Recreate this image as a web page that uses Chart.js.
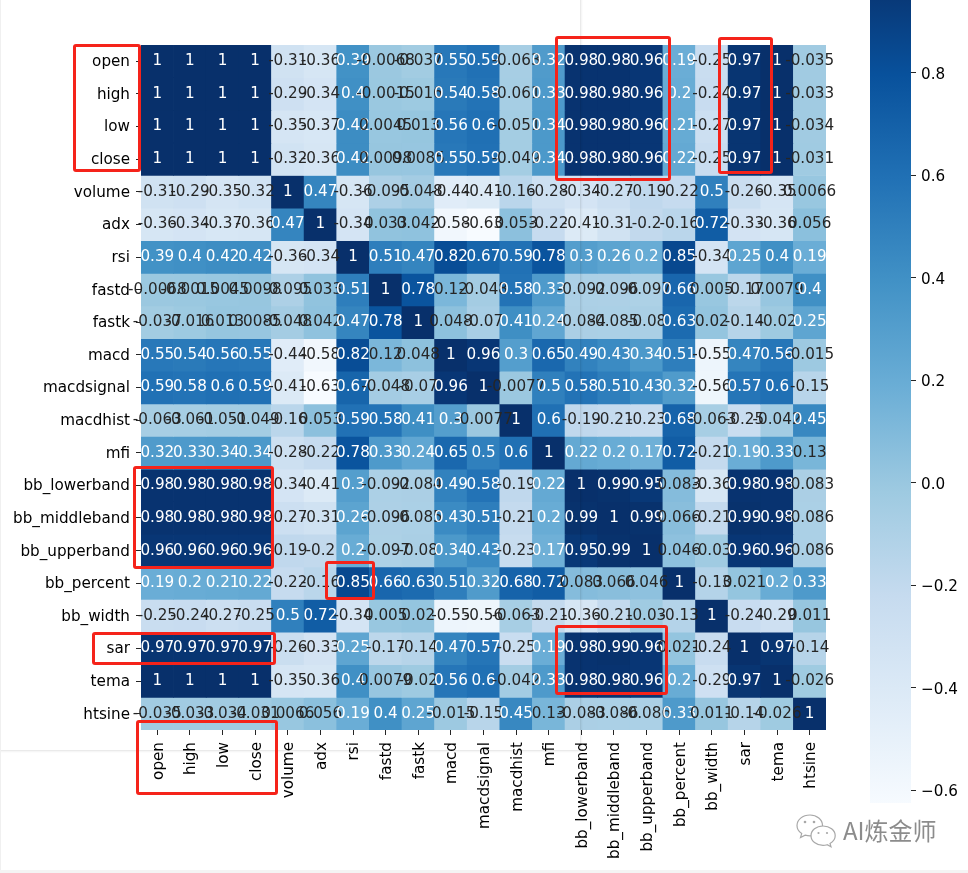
<!DOCTYPE html>
<html>
<head>
<meta charset="utf-8">
<title>correlation heatmap</title>
<script src="https://cdn.jsdelivr.net/npm/chart.js@4"></script>
<style>
  html, body { margin: 0; padding: 0; background: #fff; }
  body { position: relative; width: 968px; height: 873px; overflow: hidden; }
  canvas { position: absolute; }
  #heatmap { left: 0; top: 0; }
  #colorbar { left: 860px; top: 0; }
  .redbox { position: absolute; box-sizing: border-box; border: 3px solid #f5231a; border-radius: 3px; }
  #pageEdge { position: absolute; left: -5px; top: -5px; width: 585px; height: 755px; box-shadow: 0 0 3px rgba(0,0,0,.22); }
  #leftEdge { position: absolute; left: 0; top: 0; width: 1px; height: 873px; background: #f0f0f0; }
  #bottomEdge { position: absolute; left: 0; top: 870px; width: 968px; height: 3px; background: #f4f4f4; }
  #watermark { position: absolute; left: 843px; top: 812px; font: 24px "Noto Sans CJK SC", sans-serif; color: #8c8c8c; white-space: nowrap; }
  #wechat { position: absolute; left: 796px; top: 814px; }
</style>
</head>
<body>
<canvas id="heatmap" width="968" height="873"></canvas>
<canvas id="colorbar" width="108" height="815"></canvas>
<div id="pageEdge"></div>
<div id="leftEdge"></div>
<div id="bottomEdge"></div>

<div class="redbox" style="left:73px;top:44px;width:68px;height:128px"></div>
<div class="redbox" style="left:555px;top:36px;width:116px;height:145px"></div>
<div class="redbox" style="left:718px;top:37px;width:55px;height:137px"></div>
<div class="redbox" style="left:133px;top:466px;width:141px;height:103px"></div>
<div class="redbox" style="left:325px;top:561px;width:50px;height:39px"></div>
<div class="redbox" style="left:92px;top:632px;width:184px;height:33px"></div>
<div class="redbox" style="left:555px;top:625px;width:113px;height:70px"></div>
<div class="redbox" style="left:136px;top:720px;width:142px;height:75px"></div>

<svg id="wechat" width="42" height="40" viewBox="0 0 42 40" fill="#fff" stroke="#a8a8a8" stroke-width="1.2">
  <path d="M14 1C6.500 1 1 5.800 1 11.500c0 3.400 1.800 6.100 4.700 8.100L4.500 23.500l4.600-2.300c1.500.4 3 .7 4.900.7 6.800 0 12.500-4.600 12.500-10.400S20.800 1 14 1z"/>
  <path d="M27 12c-6.700 0-12 4.300-12 9.700s5.300 9.700 12 9.700c1.500 0 2.900-.3 4.200-.7l3.800 2.100-1-3.400c3.200-1.800 5.200-4.600 5.200-7.700C39.200 16.300 33.700 12 27 12z"/>
  <circle cx="9" cy="8" r="1.300" fill="#a8a8a8" stroke="none"/>
  <circle cx="18" cy="8" r="1.300" fill="#a8a8a8" stroke="none"/>
  <circle cx="22.500" cy="19" r="1.100" fill="#a8a8a8" stroke="none"/>
  <circle cx="31" cy="19" r="1.100" fill="#a8a8a8" stroke="none"/>
</svg>
<div id="watermark">AI炼金师</div>

<script>
const features = ['open', 'high', 'low', 'close', 'volume', 'adx', 'rsi', 'fastd', 'fastk', 'macd', 'macdsignal',
  'macdhist', 'mfi', 'bb_lowerband', 'bb_middleband', 'bb_upperband', 'bb_percent', 'bb_width', 'sar', 'tema', 'htsine'];

const open = [1, 1, 1, 1, -0.31, -0.36, 0.39, -0.0068, -0.037, 0.55, 0.59, -0.063, 0.32, 0.98, 0.98, 0.96, 0.19, -0.25, 0.97, 1, -0.035];
const high = [1, 1, 1, 1, -0.29, -0.34, 0.4, -0.0015, -0.016, 0.54, 0.58, -0.061, 0.33, 0.98, 0.98, 0.96, 0.2, -0.24, 0.97, 1, -0.033];
const low = [1, 1, 1, 1, -0.35, -0.37, 0.42, 0.0045, 0.013, 0.56, 0.6, -0.051, 0.34, 0.98, 0.98, 0.96, 0.21, -0.27, 0.97, 1, -0.034];
const close_ = [1, 1, 1, 1, -0.32, -0.36, 0.42, 0.0098, 0.0085, 0.55, 0.59, -0.049, 0.34, 0.98, 0.98, 0.96, 0.22, -0.25, 0.97, 1, -0.031];
const volume = [-0.31, -0.29, -0.35, -0.32, 1, 0.47, -0.36, -0.095, -0.048, -0.44, -0.41, -0.16, -0.28, -0.34, -0.27, -0.19, -0.22, 0.5, -0.26, -0.35, 0.0066];
const adx = [-0.36, -0.34, -0.37, -0.36, 0.47, 1, -0.34, 0.033, 0.042, -0.58, -0.63, 0.053, -0.22, -0.41, -0.31, -0.2, -0.16, 0.72, -0.33, -0.36, 0.056];
const rsi = [0.39, 0.4, 0.42, 0.42, -0.36, -0.34, 1, 0.51, 0.47, 0.82, 0.67, 0.59, 0.78, 0.3, 0.26, 0.2, 0.85, -0.34, 0.25, 0.4, 0.19];
const fastd = [-0.0068, -0.0015, 0.0045, 0.0098, -0.095, 0.033, 0.51, 1, 0.78, 0.12, -0.048, 0.58, 0.33, -0.092, -0.096, -0.097, 0.66, 0.005, -0.17, 0.0079, 0.4];
const fastk = [-0.037, -0.016, 0.013, 0.0085, -0.048, 0.042, 0.47, 0.78, 1, 0.048, -0.07, 0.41, 0.24, -0.084, -0.085, -0.08, 0.63, 0.02, -0.14, -0.02, 0.25];
const macd = [0.55, 0.54, 0.56, 0.55, -0.44, -0.58, 0.82, 0.12, 0.048, 1, 0.96, 0.3, 0.65, 0.49, 0.43, 0.34, 0.51, -0.55, 0.47, 0.56, -0.015];
const macdsignal = [0.59, 0.58, 0.6, 0.59, -0.41, -0.63, 0.67, -0.048, -0.07, 0.96, 1, -0.0077, 0.5, 0.58, 0.51, 0.43, 0.32, -0.56, 0.57, 0.6, -0.15];
const macdhist = [-0.063, -0.061, -0.051, -0.049, -0.16, 0.053, 0.59, 0.58, 0.41, 0.3, -0.0077, 1, 0.6, -0.19, -0.21, -0.23, 0.68, -0.063, -0.25, -0.042, 0.45];
const mfi = [0.32, 0.33, 0.34, 0.34, -0.28, -0.22, 0.78, 0.33, 0.24, 0.65, 0.5, 0.6, 1, 0.22, 0.2, 0.17, 0.72, -0.21, 0.19, 0.33, 0.13];
const bbLower = [0.98, 0.98, 0.98, 0.98, -0.34, -0.41, 0.3, -0.092, -0.084, 0.49, 0.58, -0.19, 0.22, 1, 0.99, 0.95, 0.083, -0.36, 0.98, 0.98, -0.083];
const bbMiddle = [0.98, 0.98, 0.98, 0.98, -0.27, -0.31, 0.26, -0.096, -0.085, 0.43, 0.51, -0.21, 0.2, 0.99, 1, 0.99, 0.066, -0.21, 0.99, 0.98, -0.086];
const bbUpper = [0.96, 0.96, 0.96, 0.96, -0.19, -0.2, 0.2, -0.097, -0.08, 0.34, 0.43, -0.23, 0.17, 0.95, 0.99, 1, 0.046, -0.03, 0.96, 0.96, -0.086];
const bbPercent = [0.19, 0.2, 0.21, 0.22, -0.22, -0.16, 0.85, 0.66, 0.63, 0.51, 0.32, 0.68, 0.72, 0.083, 0.066, 0.046, 1, -0.13, 0.021, 0.2, 0.33];
const bbWidth = [-0.25, -0.24, -0.27, -0.25, 0.5, 0.72, -0.34, 0.005, 0.02, -0.55, -0.56, -0.063, -0.21, -0.36, -0.21, -0.03, -0.13, 1, -0.24, -0.29, 0.011];
const sar = [0.97, 0.97, 0.97, 0.97, -0.26, -0.33, 0.25, -0.17, -0.14, 0.47, 0.57, -0.25, 0.19, 0.98, 0.99, 0.96, 0.021, -0.24, 1, 0.97, -0.14];
const tema = [1, 1, 1, 1, -0.35, -0.36, 0.4, 0.0079, -0.02, 0.56, 0.6, -0.042, 0.33, 0.98, 0.98, 0.96, 0.2, -0.29, 0.97, 1, -0.026];
const htsine = [-0.035, -0.033, -0.034, -0.031, 0.0066, 0.056, 0.19, 0.4, 0.25, -0.015, -0.15, 0.45, 0.13, -0.083, -0.086, -0.086, 0.33, 0.011, -0.14, -0.026, 1];

const matrix = [open, high, low, close_, volume, adx, rsi, fastd, fastk, macd, macdsignal, macdhist, mfi,
  bbLower, bbMiddle, bbUpper, bbPercent, bbWidth, sar, tema, htsine];

const colorbarTicks = [-0.6, -0.4, -0.2, 0, 0.2, 0.4, 0.6, 0.8];

// matplotlib Blues
const blues = [[247, 251, 255], [222, 235, 247], [198, 219, 239], [158, 202, 225], [107, 174, 214],
  [66, 146, 198], [33, 113, 181], [8, 81, 156], [8, 48, 107]];
const vmin = -0.63;
const vmax = 1;

const fontFamily = '"DejaVu Sans", sans-serif';
const fontSize = 15.2;

function rgbFor(value) {
  const t = Math.min(1, Math.max(0, (value - vmin) / (vmax - vmin))) * (blues.length - 1);
  const i = Math.min(blues.length - 2, Math.floor(t));
  return blues[i].map((c, k) => c + (blues[i + 1][k] - c) * (t - i));
}

function colorFor(value) {
  const [r, g, b] = rgbFor(value);
  return `rgb(${r}, ${g}, ${b})`;
}

// same rule seaborn uses to choose the annotation colour
function textColorFor(value) {
  const [r, g, b] = rgbFor(value).map(c => {
    const s = c / 255;
    return s <= 0.03928 ? s / 12.92 : Math.pow((s + 0.055) / 1.055, 2.4);
  });
  return 0.2126 * r + 0.7152 * g + 0.0722 * b > 0.408 ? '#262626' : '#ffffff';
}

const cellLabels = {
  id: 'cellLabels',
  afterDatasetsDraw(chart) {
    const { ctx, scales } = chart;
    ctx.save();
    ctx.font = `${fontSize}px ${fontFamily}`;
    ctx.textAlign = 'center';
    ctx.textBaseline = 'middle';
    matrix.forEach((row, r) => {
      row.forEach((value, c) => {
        ctx.fillStyle = textColorFor(value);
        ctx.fillText(String(value), scales.x.getPixelForValue(c), scales.y.getPixelForValue(r));
      });
    });
    ctx.restore();
  },
};

new Chart(document.getElementById('heatmap'), {
  type: 'bar',
  data: {
    labels: features,
    datasets: matrix.map((row, r) => ({
      label: features[r],
      data: row.map(() => [r - 0.5, r + 0.5]),
      backgroundColor: row.map(colorFor),
      barPercentage: 1,
      categoryPercentage: 1,
      grouped: false,
    })),
  },
  options: {
    responsive: false,
    animation: false,
    events: [],
    layout: { padding: { top: 45, right: 142, left: 0, bottom: 0 } },
    plugins: { legend: { display: false }, tooltip: { enabled: false } },
    scales: {
      x: {
        afterFit: (scale) => { scale.height = 143; },
        grid: { offset: false, drawOnChartArea: false, tickLength: 5, tickColor: '#262626', tickWidth: 1 },
        border: { display: false },
        ticks: {
          color: '#000', font: { family: fontFamily, size: fontSize }, padding: 7, labelOffset: 1.5,
          autoSkip: false, minRotation: 90, maxRotation: 90,
        },
      },
      y: {
        reverse: true,
        min: -0.5,
        max: 20.5,
        afterFit: (scale) => { scale.width = 141; },
        afterBuildTicks: (scale) => { scale.ticks = features.map((f, i) => ({ value: i })); },
        grid: { drawOnChartArea: false, tickLength: 5, tickColor: '#262626', tickWidth: 1 },
        border: { display: false },
        ticks: {
          color: '#000', font: { family: fontFamily, size: fontSize }, padding: 6, labelOffset: 1,
          callback: (value) => features[value],
        },
      },
    },
  },
  plugins: [cellLabels],
});

function colorbarFill(context) {
  const { ctx, chartArea, scales } = context.chart;
  if (!chartArea) return '#4292c6';
  const gradient = ctx.createLinearGradient(0, scales.y.getPixelForValue(vmin), 0, scales.y.getPixelForValue(vmax));
  blues.forEach((c, i) => gradient.addColorStop(i / (blues.length - 1), `rgb(${c.join(',')})`));
  return gradient;
}

new Chart(document.getElementById('colorbar'), {
  type: 'bar',
  data: {
    labels: ['r'],
    datasets: [{
      data: [[-0.625, 0.942]],
      backgroundColor: colorbarFill,
      barPercentage: 1,
      categoryPercentage: 1,
    }],
  },
  options: {
    responsive: false,
    animation: false,
    events: [],
    layout: { padding: { top: 0, right: 0, left: 10, bottom: 12 } },
    plugins: { legend: { display: false }, tooltip: { enabled: false } },
    scales: {
      x: { display: false },
      y: {
        position: 'right',
        min: -0.625,
        max: 0.942,
        afterFit: (scale) => {
          scale.width = 57;
          scale.paddingTop = 0;
          scale.paddingBottom = 0;
        },
        afterBuildTicks: (scale) => { scale.ticks = colorbarTicks.map(value => ({ value })); },
        grid: { drawOnChartArea: false, tickLength: 5, tickColor: '#262626', tickWidth: 1 },
        border: { display: false },
        ticks: {
          color: '#000', font: { family: fontFamily, size: fontSize }, padding: 5, labelOffset: 2,
          callback: (value) => value.toFixed(1).replace('-', '\u2212'),
        },
      },
    },
  },
});
</script>
</body>
</html>
